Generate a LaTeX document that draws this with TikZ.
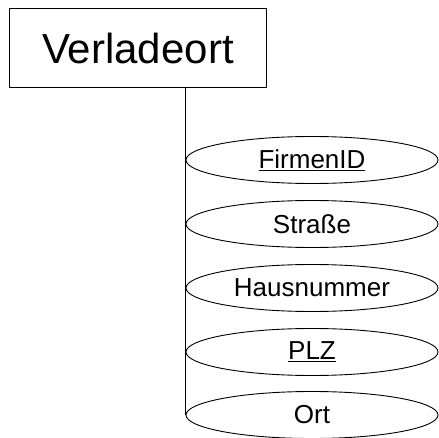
\documentclass[tikz,border=0pt]{standalone}
\usepackage{fontspec}
\setmainfont{Liberation Sans}
\usetikzlibrary{shapes.geometric}
\tikzset{
	entity/.style={draw, line width=1pt, minimum width=257pt, minimum height=79.5pt, inner sep=0pt, font=\fontsize{42}{48}\selectfont},
	attrib/.style={draw, ellipse, line width=0.9pt, minimum width=252pt, minimum height=47pt, inner sep=0pt, font=\fontsize{26}{30}\selectfont},
}
\begin{document}
\begin{tikzpicture}[x=1pt, y=1pt]
			%%%%% FRAME %%%%%
			\useasboundingbox (0, 0) rectangle (439, -438);
			
			\node[entity] (verladeort) at (138, -48.25) {Verladeort};
			
			\node[attrib] (firmenid) at (312, -160) {\underline{FirmenID}};
			\node[attrib] (strasse) at (312, -224) {Straße};
			\node[attrib] (hausnr) at (312, -288) {Hausnummer};
			\node[attrib] (plz) at (312, -352) {\underline{PLZ}};
			\node[attrib] (ort) at (312, -415) {Ort};
			
			%%%%% CONNECTOR %%%%%
			\draw[line width=1pt] (ort.west |- verladeort.south) -- (ort.west);
\end{tikzpicture}
\end{document}
